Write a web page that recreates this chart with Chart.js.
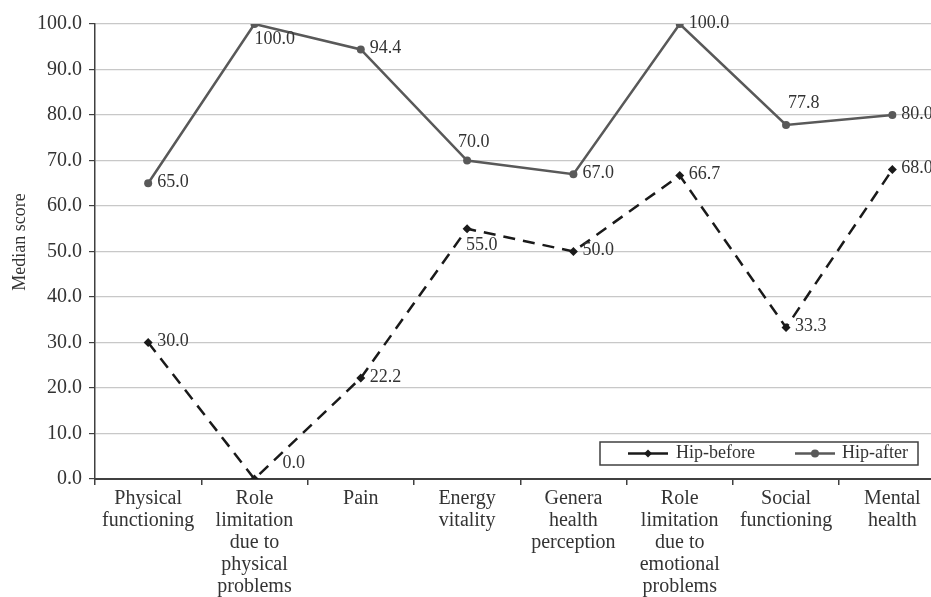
<!DOCTYPE html>
<html>
<head>
<meta charset="utf-8">
<script src="https://cdn.jsdelivr.net/npm/chart.js@4"></script>
<style>
  html, body { margin: 0; padding: 0; background: #fff; overflow: hidden; }
  #wrap { width: 950px; height: 597px; }
</style>
</head>
<body>
<div id="wrap"><canvas id="linechart1" width="950" height="597"></canvas></div>
<script>
// categories (x axis)
const categories = [
  ['Physical', 'functioning'],
  ['Role', 'limitation', 'due to', 'physical', 'problems'],
  ['Pain'],
  ['Energy', 'vitality'],
  ['Genera', 'health', 'perception'],
  ['Role', 'limitation', 'due to', 'emotional', 'problems'],
  ['Social', 'functioning'],
  ['Mental', 'health']
];

// median scores
const hipBefore = [30.0, 0.0, 22.2, 55.0, 50.0, 66.7, 33.3, 68.0];
const hipAfter = [65.0, 100.0, 94.4, 70.0, 67.0, 100.0, 77.8, 80.0];

const seriesNames = ['Hip-before', 'Hip-after'];
const yTicks = [0, 10, 20, 30, 40, 50, 60, 70, 80, 90, 100];

// where each value label sits next to its point
const beforePlace = ['r', 'ur', 'r', 'dl', 'r', 'r', 'r', 'r'];
const afterPlace = ['r', 'd', 'r', 'ul', 'r', 'r', 'u', 'r'];

const FONT = '"Liberation Serif", "Times New Roman", serif';

// value labels drawn beside the points
const valueLabels = {
  id: 'valueLabels',
  afterDatasetsDraw(chart) {
    const ctx = chart.ctx;
    ctx.save();
    ctx.font = '18px ' + FONT;
    ctx.fillStyle = '#333';
    ctx.textBaseline = 'middle';
    ctx.textAlign = 'left';
    const places = [beforePlace, afterPlace];
    chart.data.datasets.forEach((ds, i) => {
      const meta = chart.getDatasetMeta(i);
      meta.data.forEach((pt, j) => {
        const txt = ds.data[j].toFixed(1);
        const p = places[i][j];
        let x = pt.x + 9, y = pt.y - 1;
        if (p === 'd') { x = pt.x; y = pt.y + 15; }
        if (p === 'u') { x = pt.x + 2; y = pt.y - 22; }
        if (p === 'ul') { x = pt.x - 9; y = pt.y - 18; }
        if (p === 'ur') { x = pt.x + 28; y = pt.y - 16; }
        if (p === 'dl') { x = pt.x - 1; y = pt.y + 17; }
        ctx.fillText(txt, x, y);
      });
    });
    ctx.restore();
  }
};

// legend box inside the plot, bottom right + y axis title
const innerLegend = {
  id: 'innerLegend',
  afterDraw(chart) {
    const ctx = chart.ctx;
    const x0 = 600, y0 = 442, w = 318, h = 23;
    ctx.save();
    ctx.fillStyle = '#fff';
    ctx.fillRect(x0, y0, w, h);
    ctx.strokeStyle = '#404040';
    ctx.lineWidth = 1.5;
    ctx.strokeRect(x0, y0, w, h);
    const items = [
      { lx: 628, tx: 676, color: '#1a1a1a', style: 'rectRot' },
      { lx: 795, tx: 842, color: '#595959', style: 'circle' }
    ];
    const cy = y0 + h / 2;
    items.forEach((it, i) => {
      ctx.strokeStyle = it.color;
      ctx.lineWidth = 2.5;
      ctx.beginPath();
      ctx.moveTo(it.lx, cy);
      ctx.lineTo(it.lx + 40, cy);
      ctx.stroke();
      ctx.fillStyle = it.color;
      Chart.helpers.drawPoint(ctx, { pointStyle: it.style, radius: 4, borderWidth: 0 }, it.lx + 20, cy);
      ctx.fillStyle = '#333';
      ctx.font = '18px ' + FONT;
      ctx.textAlign = 'left';
      ctx.textBaseline = 'middle';
      ctx.fillText(seriesNames[i], it.tx, cy);
    });
    // axis title
    ctx.translate(20, 242);
    ctx.rotate(-Math.PI / 2);
    ctx.font = '18px ' + FONT;
    ctx.textAlign = 'center';
    ctx.textBaseline = 'middle';
    ctx.fillStyle = '#333';
    ctx.fillText('Median score', 0, 0);
    ctx.restore();
  }
};

const data = {
  labels: categories,
  datasets: [{
    label: seriesNames[0],
    data: hipBefore,
    borderColor: '#1a1a1a',
    backgroundColor: '#1a1a1a',
    borderWidth: 2.5,
    borderDash: [12, 8],
    pointStyle: 'rectRot',
    pointRadius: 4.5,
    pointBorderWidth: 0
  }, {
    label: seriesNames[1],
    data: hipAfter,
    borderColor: '#595959',
    backgroundColor: '#595959',
    borderWidth: 2.5,
    pointStyle: 'circle',
    pointRadius: 4,
    pointBorderWidth: 0
  }]
};

new Chart(
  document.getElementById('linechart1'),
  {
    type: 'line',
    data: data,
    options: {
      responsive: false,
      animation: false,
      layout: { padding: { top: 24, right: 0, bottom: 0, left: 0 } },
      plugins: {
        legend: { display: false },
        tooltip: { enabled: false }
      },
      scales: {
        x: {
          offset: true,
          grid: { offset: true, drawOnChartArea: false, color: '#404040', tickLength: 6, lineWidth: 1.5 },
          border: { color: '#404040', width: 2 },
          ticks: {
            color: '#333',
            padding: 3,
            maxRotation: 0,
            autoSkip: false,
            font: { family: FONT, size: 20, lineHeight: 1.1 }
          },
          afterFit(scale) { scale.height = 118; }
        },
        y: {
          min: 0,
          max: 100,
          afterBuildTicks(scale) { scale.ticks = yTicks.map(v => ({ value: v })); },
          grid: { color: '#c8c8c8', lineWidth: 1.2, tickColor: '#404040', tickLength: 6 },
          border: { color: '#404040', width: 1.5 },
          ticks: {
            color: '#333',
            padding: 7,
            font: { family: FONT, size: 20 },
            callback: v => v.toFixed(1)
          },
          afterFit(scale) { scale.width = 95; }
        }
      }
    },
    plugins: [valueLabels, innerLegend]
  }
);
</script>
</body>
</html>
